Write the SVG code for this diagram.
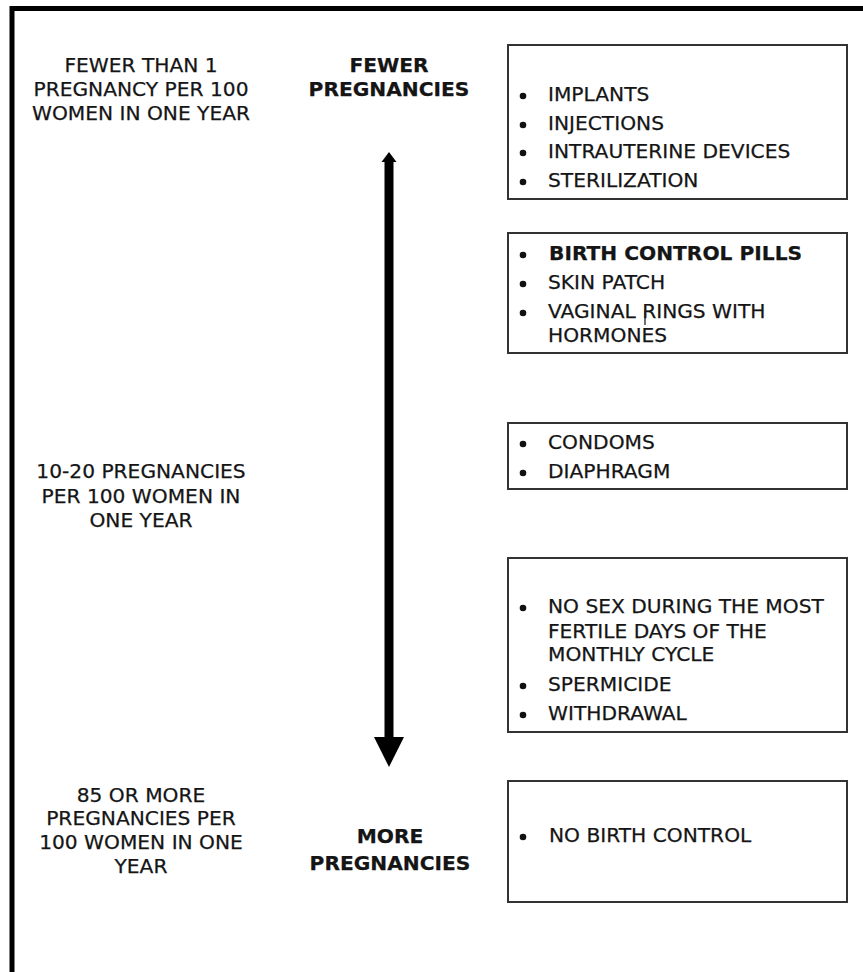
<svg xmlns="http://www.w3.org/2000/svg" width="863" height="972" viewBox="0 0 863 972">
<style>
  text { font-family: "DejaVu Sans", Verdana, sans-serif; font-size: 20.2px; fill: #151515; stroke: #151515; stroke-width: 0.25; }
  .c { text-anchor: middle; }
  .b { font-weight: bold; }
  .box { fill: #fff; stroke: #333; stroke-width: 2; }
  .dot { fill: #111; }
</style>
<rect width="863" height="972" fill="#fff"/>
<g id="frame">
  <path d="M12 972 V8.5 H863" fill="none" stroke="#000" stroke-width="5"/>
</g>
<g id="left-labels">
  <text class="c" x="141" y="72">FEWER THAN 1</text>
  <text class="c" x="141" y="96">PREGNANCY PER 100</text>
  <text class="c" x="141" y="120">WOMEN IN ONE YEAR</text>
  <text class="c" x="141" y="478">10-20 PREGNANCIES</text>
  <text class="c" x="141" y="503">PER 100 WOMEN IN</text>
  <text class="c" x="141" y="527">ONE YEAR</text>
  <text class="c" x="141" y="802">85 OR MORE</text>
  <text class="c" x="141" y="825">PREGNANCIES PER</text>
  <text class="c" x="141" y="849">100 WOMEN IN ONE</text>
  <text class="c" x="141" y="873">YEAR</text>
</g>
<g id="fewer">
  <text class="c b" x="389" y="72">FEWER</text>
  <text class="c b" x="389" y="96">PREGNANCIES</text>
</g>
<g id="more">
  <text class="c b" x="390" y="843">MORE</text>
  <text class="c b" x="390" y="870">PREGNANCIES</text>
</g>
<g id="connectors">
  <rect x="384.5" y="161" width="9" height="577" fill="#000"/>
  <polygon points="389,152 396.5,162 381.5,162" fill="#000"/>
  <polygon points="374,737 404,737 389,767" fill="#000"/>
</g>
<g id="box1">
  <rect class="box" x="508" y="45" width="339" height="154"/>
  <circle class="dot" cx="523" cy="96" r="3.3"/>
  <text x="548" y="101">IMPLANTS</text>
  <circle class="dot" cx="523" cy="125" r="3.3"/>
  <text x="548" y="130">INJECTIONS</text>
  <circle class="dot" cx="523" cy="153" r="3.3"/>
  <text x="548" y="158">INTRAUTERINE DEVICES</text>
  <circle class="dot" cx="523" cy="182" r="3.3"/>
  <text x="548" y="187">STERILIZATION</text>
</g>
<g id="box2">
  <rect class="box" x="508" y="233" width="339" height="120"/>
  <circle class="dot" cx="523" cy="255" r="3.3"/>
  <text class="b" x="549" y="260">BIRTH CONTROL PILLS</text>
  <circle class="dot" cx="523" cy="284" r="3.3"/>
  <text x="548" y="289">SKIN PATCH</text>
  <circle class="dot" cx="523" cy="313" r="3.3"/>
  <text x="548" y="318">VAGINAL RINGS WITH</text>
  <text x="548" y="342">HORMONES</text>
  <line x1="645" y1="310" x2="645" y2="325" stroke="#222" stroke-width="1.3"/>
</g>
<g id="box3">
  <rect class="box" x="508" y="423" width="339" height="66"/>
  <circle class="dot" cx="523" cy="444" r="3.3"/>
  <text x="548" y="449">CONDOMS</text>
  <circle class="dot" cx="523" cy="473" r="3.3"/>
  <text x="548" y="478">DIAPHRAGM</text>
</g>
<g id="box4">
  <rect class="box" x="508" y="558" width="339" height="174"/>
  <circle class="dot" cx="523" cy="608" r="3.3"/>
  <text x="548" y="613">NO SEX DURING THE MOST</text>
  <text x="548" y="638">FERTILE DAYS OF THE</text>
  <text x="548" y="661">MONTHLY CYCLE</text>
  <circle class="dot" cx="523" cy="686" r="3.3"/>
  <text x="548" y="691">SPERMICIDE</text>
  <circle class="dot" cx="523" cy="715" r="3.3"/>
  <text x="548" y="720">WITHDRAWAL</text>
</g>
<g id="box5">
  <rect class="box" x="508" y="781" width="339" height="121"/>
  <circle class="dot" cx="523" cy="837" r="3.3"/>
  <text x="549" y="842">NO BIRTH CONTROL</text>
</g>
</svg>
